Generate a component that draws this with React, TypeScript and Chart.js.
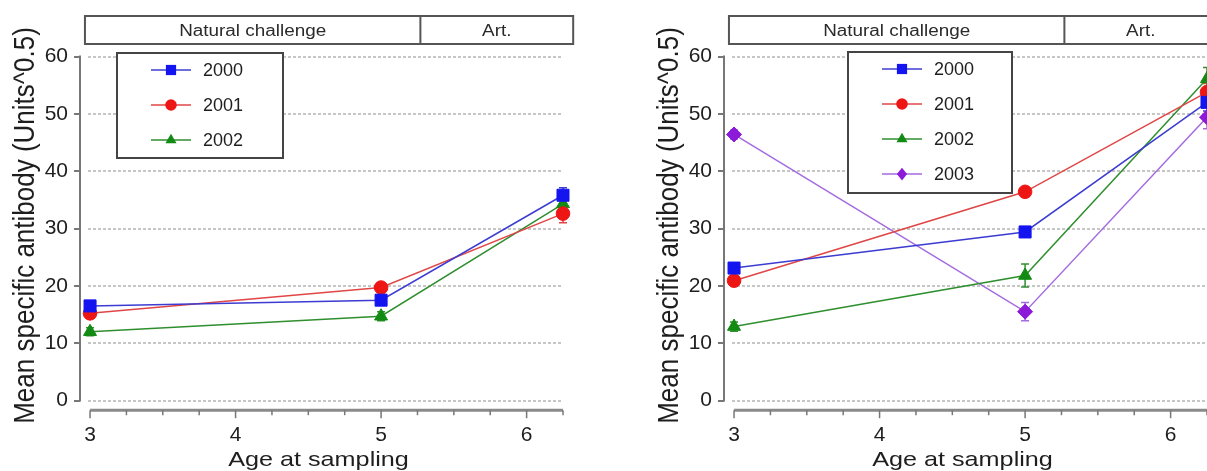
import React, { useEffect, useRef } from "react";
import { Chart, registerables } from "chart.js";

Chart.register(...registerables);

// ---------- data ----------
const AGES = [3, 5, 6.25];
const X_TICKS = [3, 4, 5, 6];
const Y_TICKS = [0, 10, 20, 30, 40, 50, 60];
const YEARS = ["2000", "2001", "2002", "2003"];

const LEFT_2000 = [16.5, 17.5, 35.8];
const LEFT_2001 = [15.2, 19.7, 32.6];
const LEFT_2002 = [12.0, 14.7, 34.3];
const LEFT_ERR_2000 = [0.9, 0.9, 1.3];
const LEFT_ERR_2001 = [0.9, 0.8, 1.6];
const LEFT_ERR_2002 = [0.7, 0.8, 1.2];

const RIGHT_2000 = [23.1, 29.4, 52.0];
const RIGHT_2001 = [20.9, 36.4, 53.8];
const RIGHT_2002 = [12.9, 21.8, 56.1];
const RIGHT_2003 = [46.4, 15.5, 49.4];
const RIGHT_ERR_2000 = [0.9, 0.9, 1.5];
const RIGHT_ERR_2001 = [0.8, 0.9, 1.5];
const RIGHT_ERR_2002 = [0.8, 2.0, 2.0];
const RIGHT_ERR_2003 = [0.8, 1.6, 2.0];

const HEADER_LABELS = ["Natural challenge", "Art."];
const HEADER_EDGES = [2.965, 5.27, 6.32];
const X_TITLE = "Age at sampling";
const Y_TITLE = "Mean specific antibody (Units^0.5)";

// ---------- styles ----------
const LINE_COLORS = ["#3c3cd2", "#e04646", "#2f8f2f", "#a46ae0"];
const MARK_COLORS = ["#1414f0", "#ee1515", "#138a13", "#8c1ad8"];
const POINT_STYLES = ["rect", "circle", "triangle", "rectRot"];
const POINT_RADII = [8.5, 6.8, 7.5, 7.5];
const FONT = "'Liberation Sans', Arial, Helvetica, sans-serif";
const TEXT_COLOR = "#1e1e1e";

const CANVAS_W = 600;
const CANVAS_H = 471;
const AXIS_X = 80;
const PLOT_TOP = 56.5;
const PLOT_BOTTOM = 410.2;
const PLOT_RIGHT = 563;
const X_MIN = 2.931;
const X_MAX = 6.25;
const Y_MIN = -1.69;
const Y_MAX = 60;

type Box = { x: number; y: number; w: number; h: number };

function drawMarker(ctx: CanvasRenderingContext2D, style: string, x: number, y: number, r: number, color: string) {
  ctx.save();
  ctx.fillStyle = color;
  ctx.beginPath();
  if (style === "rect") {
    const s = r * Math.SQRT1_2;
    ctx.rect(x - s, y - s, 2 * s, 2 * s);
  } else if (style === "circle") {
    ctx.arc(x, y, r, 0, Math.PI * 2);
  } else if (style === "triangle") {
    let a = 0;
    ctx.moveTo(x + Math.sin(a) * r, y - Math.cos(a) * r);
    a += (2 * Math.PI) / 3;
    ctx.lineTo(x + Math.sin(a) * r, y - Math.cos(a) * r);
    a += (2 * Math.PI) / 3;
    ctx.lineTo(x + Math.sin(a) * r, y - Math.cos(a) * r);
    ctx.closePath();
  } else {
    ctx.moveTo(x, y - r);
    ctx.lineTo(x + r * 0.8, y);
    ctx.lineTo(x, y + r);
    ctx.lineTo(x - r * 0.8, y);
    ctx.closePath();
  }
  ctx.fill();
  ctx.restore();
}

function stretchedText(
  ctx: CanvasRenderingContext2D,
  text: string,
  x: number,
  y: number,
  font: string,
  sx: number,
  baseline: CanvasTextBaseline,
  rotate = 0,
  color = TEXT_COLOR
) {
  ctx.save();
  ctx.translate(x, y);
  ctx.scale(sx, 1);
  if (rotate) ctx.rotate(rotate);
  ctx.font = font;
  ctx.fillStyle = color;
  ctx.textAlign = "center";
  ctx.textBaseline = baseline;
  ctx.fillText(text, 0, 0);
  ctx.restore();
}

function makeDecor(legend: Box) {
  return {
    id: "decor",
    beforeDatasetsDraw(chart: any) {
      const { ctx, chartArea: a } = chart;
      const ys = chart.scales.y;
      ctx.save();
      // horizontal grid lines
      ctx.strokeStyle = "#c6c6c6";
      ctx.lineWidth = 2;
      ctx.setLineDash([3, 2]);
      for (const v of Y_TICKS) {
        const py = Math.round(ys.getPixelForValue(v));
        ctx.beginPath();
        ctx.moveTo(a.left + 8, py);
        ctx.lineTo(a.right, py);
        ctx.stroke();
      }
      ctx.setLineDash([]);
      // error bars
      chart.data.datasets.forEach((ds: any, i: number) => {
        const meta = chart.getDatasetMeta(i);
        ctx.strokeStyle = ds.borderColor;
        ctx.lineWidth = 1.5;
        meta.data.forEach((pt: any, j: number) => {
          const v = ds.data[j].y;
          const e = ds.errors[j];
          const t = ys.getPixelForValue(v + e);
          const b = ys.getPixelForValue(v - e);
          ctx.beginPath();
          ctx.moveTo(pt.x, t);
          ctx.lineTo(pt.x, b);
          ctx.moveTo(pt.x - 4, t);
          ctx.lineTo(pt.x + 4, t);
          ctx.moveTo(pt.x - 4, b);
          ctx.lineTo(pt.x + 4, b);
          ctx.stroke();
        });
      });
      ctx.restore();
    },
    afterDraw(chart: any) {
      const { ctx, chartArea: a } = chart;
      const xs = chart.scales.x;
      const ys = chart.scales.y;
      ctx.save();
      // y axis line + ticks
      ctx.strokeStyle = "#777";
      ctx.lineWidth = 2;
      ctx.beginPath();
      ctx.moveTo(a.left, ys.getPixelForValue(0) + 1);
      ctx.lineTo(a.left, ys.getPixelForValue(Y_MAX) - 1);
      ctx.stroke();
      for (const v of Y_TICKS) {
        const py = Math.round(ys.getPixelForValue(v));
        ctx.beginPath();
        ctx.moveTo(a.left - 6, py);
        ctx.lineTo(a.left, py);
        ctx.stroke();
      }
      // x axis line + ticks
      const x0 = xs.getPixelForValue(AGES[0]);
      const x1 = xs.getPixelForValue(X_MAX);
      ctx.strokeStyle = "#8a8a8a";
      ctx.lineWidth = 3;
      ctx.beginPath();
      ctx.moveTo(x0, a.bottom);
      ctx.lineTo(x1, a.bottom);
      ctx.stroke();
      ctx.lineWidth = 1.5;
      ctx.strokeStyle = "#777";
      for (let k = 0; k <= 13; k++) {
        const v = AGES[0] + k * 0.25;
        const px = xs.getPixelForValue(v);
        const major = Math.abs(v - Math.round(v)) < 1e-6;
        ctx.beginPath();
        ctx.moveTo(px, a.bottom);
        ctx.lineTo(px, a.bottom + (major ? 8 : 5));
        ctx.stroke();
      }
      // header box
      const hx = HEADER_EDGES.map((v) => xs.getPixelForValue(v));
      ctx.strokeStyle = "#555";
      ctx.lineWidth = 2;
      ctx.fillStyle = "#fff";
      ctx.fillRect(hx[0], 16, hx[2] - hx[0], 28);
      ctx.strokeRect(hx[0], 16, hx[2] - hx[0], 28);
      ctx.beginPath();
      ctx.moveTo(hx[1], 16);
      ctx.lineTo(hx[1], 44);
      ctx.stroke();
      HEADER_LABELS.forEach((lab, i) => {
        stretchedText(ctx, lab, (hx[i] + hx[i + 1]) / 2, 36, `16px ${FONT}`, 1.18, "alphabetic", 0, "#2a2a2a");
      });
      // legend
      ctx.fillStyle = "#fff";
      ctx.fillRect(legend.x, legend.y, legend.w, legend.h);
      ctx.strokeStyle = "#444";
      ctx.lineWidth = 2;
      ctx.strokeRect(legend.x, legend.y, legend.w, legend.h);
      chart.data.datasets.forEach((ds: any, i: number) => {
        const ry = legend.y + 17 + i * 35;
        ctx.strokeStyle = ds.borderColor;
        ctx.lineWidth = 1.5;
        ctx.beginPath();
        ctx.moveTo(legend.x + 34, ry);
        ctx.lineTo(legend.x + 74, ry);
        ctx.stroke();
        drawMarker(ctx, ds.pointStyle, legend.x + 54, ry, ds.pointRadius * 0.85, ds.pointBackgroundColor);
        ctx.save();
        ctx.font = `18px ${FONT}`;
        ctx.fillStyle = TEXT_COLOR;
        ctx.textAlign = "left";
        ctx.textBaseline = "middle";
        ctx.fillText(ds.label, legend.x + 86, ry + 1);
        ctx.restore();
      });
      // axis titles
      stretchedText(ctx, X_TITLE, (a.left + a.right) / 2 - 3, 466, `21px ${FONT}`, 1.2, "alphabetic");
      stretchedText(ctx, Y_TITLE, 34, (ys.getPixelForValue(0) + ys.getPixelForValue(Y_MAX)) / 2 - 3, `26px ${FONT}`, 1.1, "alphabetic", -Math.PI / 2);
      ctx.restore();
    },
  };
}

type PanelProps = { values: number[][]; errors: number[][]; legend: Box; left: number };

function Panel({ values, errors, legend, left }: PanelProps) {
  const ref = useRef<HTMLCanvasElement>(null);
  useEffect(() => {
    if (!ref.current) return;
    const datasets = values.map((vals, i) => ({
      label: YEARS[i],
      data: AGES.map((x, j) => ({ x, y: vals[j] })),
      errors: errors[i],
      borderColor: LINE_COLORS[i],
      borderWidth: 1.5,
      pointStyle: POINT_STYLES[i],
      pointRadius: POINT_RADII[i],
      pointBackgroundColor: MARK_COLORS[i],
      pointBorderColor: MARK_COLORS[i],
      pointBorderWidth: 1,
      clip: false,
      tension: 0,
      fill: false,
    }));
    const tickFont = { family: FONT, size: 21 };
    const chart = new Chart(ref.current, {
      type: "line",
      data: { datasets } as any,
      options: {
        animation: false,
        responsive: false,
        devicePixelRatio: 1,
        layout: { padding: { top: PLOT_TOP, right: CANVAS_W - PLOT_RIGHT, left: 0, bottom: 0 } },
        plugins: { legend: { display: false }, tooltip: { enabled: false } },
        scales: {
          x: {
            type: "linear",
            min: X_MIN,
            max: X_MAX,
            grid: { display: false, drawTicks: false },
            border: { display: false },
            afterBuildTicks: (s: any) => {
              s.ticks = X_TICKS.map((v) => ({ value: v }));
            },
            afterFit: (s: any) => {
              s.height = CANVAS_H - PLOT_BOTTOM;
            },
            ticks: { font: tickFont, color: TEXT_COLOR, padding: 12, maxRotation: 0, autoSkip: false },
          },
          y: {
            type: "linear",
            min: Y_MIN,
            max: Y_MAX,
            grid: { display: false, drawTicks: false },
            border: { display: false },
            afterBuildTicks: (s: any) => {
              s.ticks = Y_TICKS.map((v) => ({ value: v }));
            },
            afterFit: (s: any) => {
              s.width = AXIS_X;
            },
            ticks: { font: tickFont, color: TEXT_COLOR, padding: 12 },
          },
        },
      } as any,
      plugins: [makeDecor(legend) as any],
    });
    return () => chart.destroy();
  }, []);
  return (
    <canvas
      ref={ref}
      width={CANVAS_W}
      height={CANVAS_H}
      style={{ position: "absolute", left, top: 0, width: CANVAS_W, height: CANVAS_H }}
    />
  );
}

export default function App() {
  return (
    <div
      style={{
        position: "fixed",
        left: 0,
        top: 0,
        width: 1207,
        height: 471,
        overflow: "hidden",
        background: "#fff",
      }}
    >
      <Panel
        values={[LEFT_2000, LEFT_2001, LEFT_2002]}
        errors={[LEFT_ERR_2000, LEFT_ERR_2001, LEFT_ERR_2002]}
        legend={{ x: 117, y: 53, w: 166, h: 105 }}
        left={0}
      />
      <Panel
        values={[RIGHT_2000, RIGHT_2001, RIGHT_2002, RIGHT_2003]}
        errors={[RIGHT_ERR_2000, RIGHT_ERR_2001, RIGHT_ERR_2002, RIGHT_ERR_2003]}
        legend={{ x: 204, y: 52, w: 164, h: 141 }}
        left={644}
      />
    </div>
  );
}
